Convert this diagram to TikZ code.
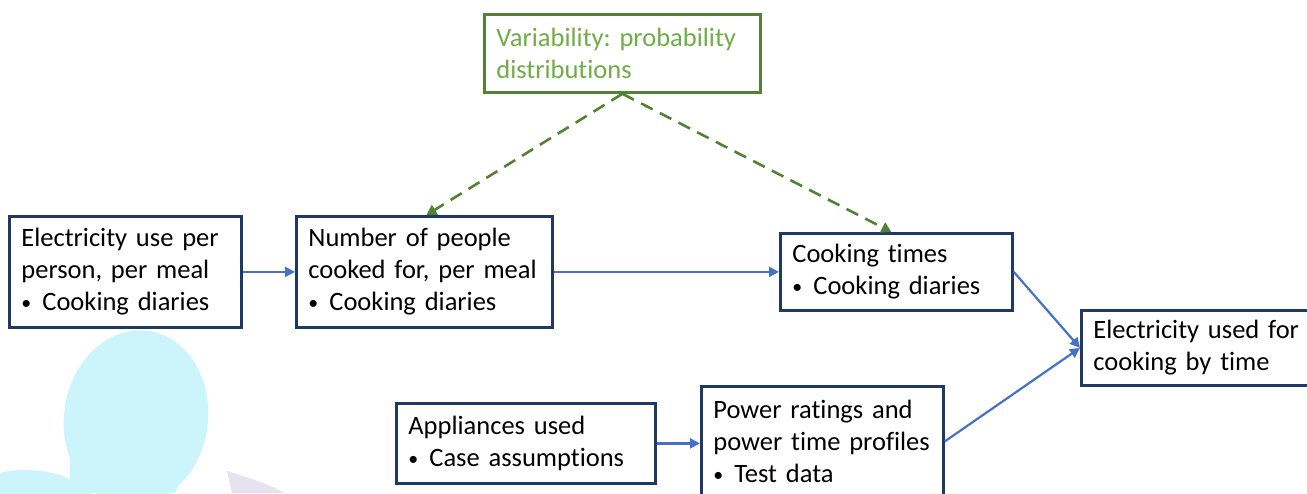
\documentclass[tikz,border=0pt]{standalone}
\usepackage{fontspec}
\setmainfont{Carlito}[Ligatures={NoCommon}]
\usetikzlibrary{arrows.meta}
\frenchspacing
\definecolor{boxline}{HTML}{203864}
\definecolor{flow}{HTML}{4472C4}
\definecolor{varline}{HTML}{548235}
\definecolor{vartext}{HTML}{70AD47}
\definecolor{blob}{HTML}{CCF5FB}
\definecolor{lav}{HTML}{E6E2F0}
\newcommand{\itembul}{\makebox[21pt][l]{\raisebox{1pt}{\scalebox{0.75}{\textbullet}}}}
\tikzset{
  stagebox/.style={draw=boxline, line width=2.8pt, fill=white, anchor=north west,
    align=left, inner xsep=12pt, inner ysep=4pt,
    font=\fontsize{26.5}{32}\selectfont, text=black},
  varbox/.style={stagebox, draw=varline, text=vartext},
  flowarrow/.style={draw=flow, line width=2.2pt, -{Triangle[length=10pt,width=10pt]}},
  vararrow/.style={draw=varline, line width=2.6pt, dash pattern=on 13pt off 8pt,
    -{Triangle[length=10pt,width=11pt]}}
}
\begin{document}
\begin{tikzpicture}[x=1pt,y=-1pt]
\useasboundingbox (0,0) rectangle (1307,493);
\clip (0,0) rectangle (1307,493);
% faint background shapes
\fill[blob, rotate around={-8:(136,418)}] (136,418) ellipse [x radius=72, y radius=88];
\fill[blob] (25,515) ellipse [x radius=75, y radius=45];
\fill[blob] (70,440) -- (200,440) -- (175,493) -- (70,493) -- cycle;
\fill[lav] (227,471) .. controls (250,478) and (270,485) .. (285,493) -- (232,493) -- cycle;

\node[varbox, minimum width=276, minimum height=78, text width=252] (var) at (483,13)
  {Variability: probability\\distributions};
\node[stagebox, minimum width=232, minimum height=111, text width=208] (epp) at (8,215)
  {Electricity use per\\person, per meal\\\itembul Cooking diaries};
\node[stagebox, minimum width=256, minimum height=111, text width=232] (ppl) at (295,215)
  {Number of people\\cooked for, per meal\\\itembul Cooking diaries};
\node[stagebox, minimum width=232, minimum height=77, text width=208] (ctime) at (779,232)
  {Cooking times\\\itembul Cooking diaries};
\node[stagebox, minimum width=240, minimum height=75, text width=216] (eout) at (1080,309)
  {Electricity used for\\cooking by time};
\node[stagebox, minimum width=259, minimum height=80, text width=235] (appl) at (395,402)
  {Appliances used\\\itembul Case assumptions};
\node[stagebox, minimum width=242, minimum height=110, text width=218] (pwr) at (700,385)
  {Power ratings and\\power time profiles\\\itembul Test data};

\draw[flowarrow] (epp.east) -- (ppl.west);
\draw[flowarrow] (ppl.east) -- (ctime.west);
\draw[flowarrow] (appl.east) -- (appl.east -| pwr.west);
\draw[flowarrow] (ctime.east) -- (eout.west);
\draw[flowarrow] (pwr.east) -- (eout.west);
\draw[vararrow] (var.south) -- ([xshift=2pt]ppl.north);
\draw[vararrow] (var.south) -- ([xshift=-5pt]ctime.north);
\end{tikzpicture}
\end{document}
